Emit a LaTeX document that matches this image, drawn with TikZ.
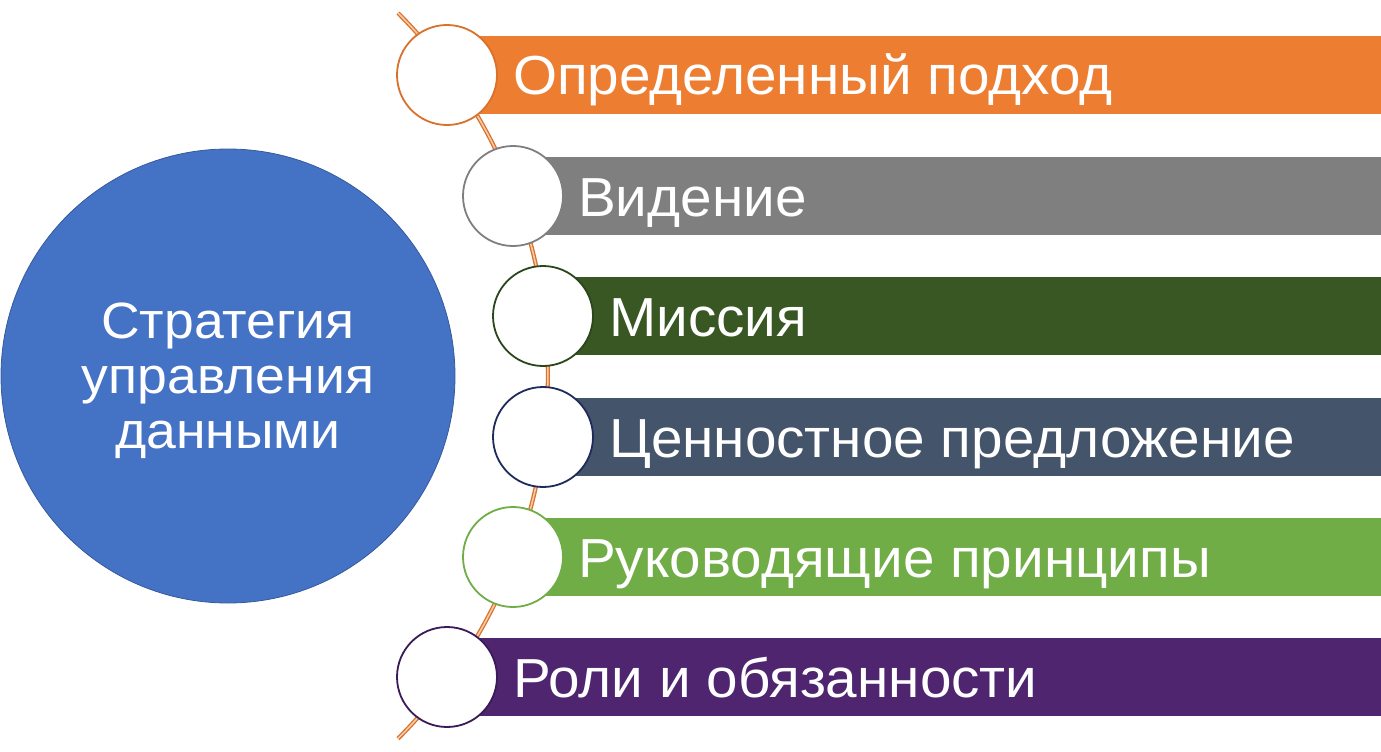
\documentclass[tikz,border=0pt]{standalone}
\usepackage{fontspec}
\setmainfont{Liberation Sans}
\newfontfamily\barfont[FakeStretch=1.03]{Liberation Sans}
\newfontfamily\mainfont[FakeStretch=1.05]{Liberation Sans}
\definecolor{cBlue}{HTML}{4472C4}
\definecolor{cOrange}{HTML}{ED7D31}
\definecolor{cOrangeD}{HTML}{D9712A}
\definecolor{cGray}{HTML}{7F7F7F}
\definecolor{cDGreen}{HTML}{385723}
\definecolor{cDGreenD}{HTML}{2C461B}
\definecolor{cSlate}{HTML}{44546A}
\definecolor{cNavy}{HTML}{1F2B5C}
\definecolor{cGreen}{HTML}{70AD47}
\definecolor{cPurple}{HTML}{4F2570}
\definecolor{cPurpleD}{HTML}{3A1A57}
\definecolor{cArcIn}{HTML}{F7C9A6}
\tikzset{
  bar/.style={rectangle, anchor=west, minimum height=78pt, inner sep=0pt, draw=none},
  dot/.style={circle, fill=white, minimum size=100pt, inner sep=0pt, line width=1.8pt},
  label/.style={anchor=base west, text=white, inner sep=0pt, font=\barfont\fontsize{55}{60}\selectfont},
  arcline/.style={draw=cOrangeD, line width=1.3pt, double=cArcIn, double distance=1.6pt}
}
\begin{document}
\begin{tikzpicture}[x=1pt,y=-1pt]
\useasboundingbox[fill=white] (0,0) rectangle (1381,752);
% central circle
\node[circle, fill=cBlue, draw=cBlue!80!black, line width=0.8pt, minimum size=454pt, inner sep=0pt] (main) at (228,376) {};
\node[text=white, align=center, inner sep=0pt, font=\mainfont\fontsize{51}{55}\selectfont] (maintext) at (228,381) {Стратегия\\управления\\данными};
% bars
\node[bar, fill=cOrange, minimum width=934pt] (b1) at (447,75) {};
\node[bar, fill=cGray, minimum width=868pt] (b2) at (513,196) {};
\node[bar, fill=cDGreen, minimum width=838pt] (b3) at (543,316) {};
\node[bar, fill=cSlate, minimum width=838pt] (b4) at (543,437) {};
\node[bar, fill=cGreen, minimum width=868pt] (b5) at (513,557) {};
\node[bar, fill=cPurple, minimum width=934pt] (b6) at (447,677) {};
% arc
\coordinate (arcTop) at (398,13);
\draw[arcline] (arcTop) arc[start angle=44.9, end angle=-44.9, radius=514pt] coordinate (arcBot);
% small circles
\node[dot, draw=cOrangeD] (c1) at (447,75) {};
\node[dot, draw=cGray] (c2) at (513,196) {};
\node[dot, draw=cDGreenD] (c3) at (543,316) {};
\node[dot, draw=cNavy] (c4) at (543,437) {};
\node[dot, draw=cGreen] (c5) at (513,557) {};
\node[dot, draw=cPurpleD] (c6) at (447,677) {};
% labels
\node[label] (t1) at (513,95) {Определенный подход};
\node[label] (t2) at (578,216) {Видение};
\node[label] (t3) at (609,336) {Миссия};
\node[label] (t4) at (609,457) {Ценностное предложение};
\node[label] (t5) at (578,577) {Руководящие принципы};
\node[label] (t6) at (513,697) {Роли и обязанности};
\end{tikzpicture}
\end{document}
